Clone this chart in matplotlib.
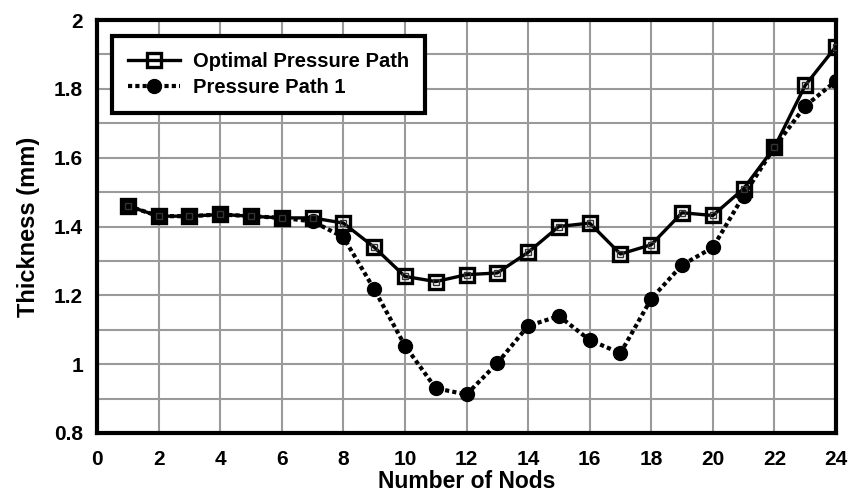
import matplotlib
matplotlib.use("Agg")
import matplotlib.pyplot as plt
import numpy as np

plt.rcParams['font.family'] = ['Liberation Sans', 'DejaVu Sans']

nodes = list(range(1, 25))
optimal = [1.46, 1.43, 1.43, 1.435, 1.43, 1.425, 1.425, 1.41, 1.34, 1.255, 1.24, 1.26,
           1.265, 1.325, 1.40, 1.41, 1.32, 1.347, 1.44, 1.432, 1.51, 1.63, 1.81, 1.923]
path1 = [1.46, 1.43, 1.43, 1.435, 1.43, 1.425, 1.415, 1.369, 1.218, 1.054, 0.93, 0.912,
         1.003, 1.111, 1.14, 1.07, 1.032, 1.19, 1.288, 1.339, 1.49, 1.63, 1.75, 1.823]
xticks = list(range(0, 25, 2))
yticks = [0.8, 1.0, 1.2, 1.4, 1.6, 1.8, 2.0]
ytick_labels = ['0.8', '1', '1.2', '1.4', '1.6', '1.8', '2']

fig = plt.figure(figsize=(8.5, 4.96), dpi=100)
ax = fig.add_axes([97/850, 1 - 433/496, (836 - 97)/850, (433 - 20)/496])

ax.plot(nodes, path1, color='black', linestyle=(0, (1.0, 0.75)), linewidth=3,
        marker='o', markersize=10, markerfacecolor='black', markeredgecolor='black',
        label='Pressure Path 1', zorder=3)
ax.plot(nodes, optimal, color='black', linestyle='-', linewidth=2.4,
        marker='s', markersize=10, markerfacecolor='none', markeredgecolor='black',
        markeredgewidth=2.4, label='Optimal Pressure Path', zorder=4)
ax.plot(nodes, optimal, linestyle='none', marker='s', markersize=4,
        markerfacecolor='none', markeredgecolor='#333333', markeredgewidth=1.0, zorder=5)

ax.set_xlim(0, 24)
ax.set_ylim(0.8, 2.0)
ax.set_xticks(xticks)
ax.set_yticks(yticks)
ax.set_yticklabels(ytick_labels)
ax.set_yticks(np.arange(0.8, 2.0001, 0.1), minor=True)
ax.grid(True, which='both', color='#9a9a9a', linewidth=1.5)
ax.tick_params(which='both', length=0)
ax.tick_params(axis='x', labelsize=15, pad=12)
ax.tick_params(axis='y', labelsize=15, pad=10)
for lbl in ax.get_xticklabels() + ax.get_yticklabels():
    lbl.set_fontweight('bold')
for s in ax.spines.values():
    s.set_linewidth(3)
ax.set_axisbelow(True)

ax.set_xlabel('Number of Nods', fontsize=16.5, fontweight='bold', labelpad=1)
ax.set_ylabel('Thickness (mm)', fontsize=17, fontweight='bold', labelpad=10)

handles, labels = ax.get_legend_handles_labels()
leg = ax.legend(handles[::-1], labels[::-1], loc='upper left',
                bbox_to_anchor=(112/850, 1 - 36/496), bbox_transform=fig.transFigure,
                frameon=True, fancybox=False, edgecolor='black', framealpha=1,
                prop={'weight': 'bold', 'size': 14.5}, handlelength=2.6, borderpad=0.8,
                labelspacing=0.35, handletextpad=0.6, borderaxespad=0)
leg.get_frame().set_linewidth(3)

fig.savefig('out.png', dpi=100)
